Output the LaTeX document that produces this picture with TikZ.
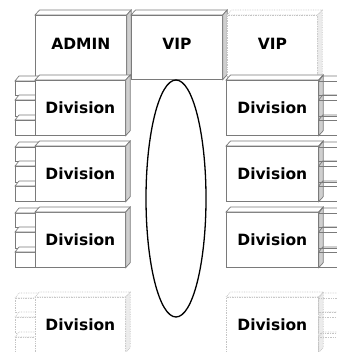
\documentclass[tikz,border=0pt]{standalone}
\usepackage{fontspec}
\setmainfont{DejaVu Sans}
\usetikzlibrary{calc,shapes.geometric}
\definecolor{edgegray}{HTML}{7A7A7A}
\definecolor{sidegray}{HTML}{CFCFCF}
\definecolor{lightedge}{HTML}{C4C4C4}
\definecolor{lightside}{HTML}{ECECEC}
\tikzset{
  solbox/.style={draw=edgegray, fill=white, rectangle, inner sep=0pt, anchor=north west,
    line width=0.7pt, font=\bfseries\fontsize{15.5}{18}\selectfont},
  fntbox/.style={solbox, draw=lightedge, densely dotted},
  toprow/.style={text depth=6pt},
  slot/.style={rectangle, inner sep=0pt, outer sep=0pt, anchor=north west},
  soltop/.style={draw=edgegray, fill=white, line width=0.7pt},
  solside/.style={draw=edgegray, fill=sidegray, line width=0.7pt},
  fnttop/.style={draw=lightedge, fill=white, line width=0.7pt, densely dotted},
  fntside/.style={draw=lightedge, fill=lightside, line width=0.7pt, densely dotted},
  solport/.style={draw=edgegray, line width=0.7pt},
  fntport/.style={draw=lightedge, line width=0.7pt, densely dotted},
  loopring/.style={draw=black, ellipse, line width=1.3pt, inner sep=0pt}
}
% 3D faces of a box node
\newcommand\cubefaces[2]{%
  \draw[#2top] (#1.north west) -- ++(4.5,-5) -- ($(#1.north east)+(4.5,-5)$) -- (#1.north east) -- cycle;
  \draw[#2side] (#1.north east) -- ++(4.5,-5) -- ($(#1.south east)+(4.5,-5)$) -- (#1.south east) -- cycle;
}
% ports on the left side of a box position
\newcommand\leftports[2]{%
  \foreach \a/\b in {1/15,20/36,40/55}{
    \draw[#2port, fill=white] ($(#1.north west)+(-20,\a)$) rectangle ($(#1.north west)+(0,\b)$);
    \draw[#2port, fill=white] ($(#1.north west)+(-20,\a)$) -- ++(4,-5) -- ++(20,0) -- ++(-4,5) -- cycle;
  }
}
% ports on the right side of a box node
\newcommand\rightports[2]{%
  \foreach \a/\b in {1/15,20/36,40/55}{
    \draw[#2port] ($(#1.north east)+(0,\a)$) rectangle ($(#1.north east)+(24,\b)$);
    \draw[#2port] ($(#1.north east)+(0,\a)$) -- ++(4,-5) -- ++(24,0);
  }
}
\begin{document}
\begin{tikzpicture}[x=1pt,y=-1pt]
\useasboundingbox (0,0) rectangle (336,352);

% top row
\node[solbox, toprow, minimum width=91pt, minimum height=64pt] (admin) at (35,15) {ADMIN};
\cubefaces{admin}{sol}
\node[solbox, toprow, minimum width=91pt, minimum height=64pt] (vipa) at (131,15) {VIP};
\cubefaces{vipa}{sol}
\node[fntbox, toprow, minimum width=90pt, minimum height=64pt] (vipb) at (227,15) {VIP};
\cubefaces{vipb}{fnt}

% left column
\foreach \n/\t/\s in {dla/80/sol, dlb/146/sol, dlc/212/sol, dld/297/fnt}{
  \node[slot, minimum width=90pt, minimum height=55pt] (\n-slot) at (35,\t) {};
  \leftports{\n-slot}{\s}
  \node[\s box, minimum width=90pt, minimum height=55pt] (\n) at (35,\t) {Division};
  \cubefaces{\n}{\s}
}

% right column
\foreach \n/\t/\s in {dra/80/sol, drb/146/sol, drc/212/sol, drd/297/fnt}{
  \node[\s box, minimum width=92pt, minimum height=55pt] (\n) at (226,\t) {Division};
  \cubefaces{\n}{\s}
  \rightports{\n}{\s}
}

% ring
\node[loopring, minimum width=60pt, minimum height=237pt] (ring) at (176,198.5) {};
\end{tikzpicture}
\end{document}
